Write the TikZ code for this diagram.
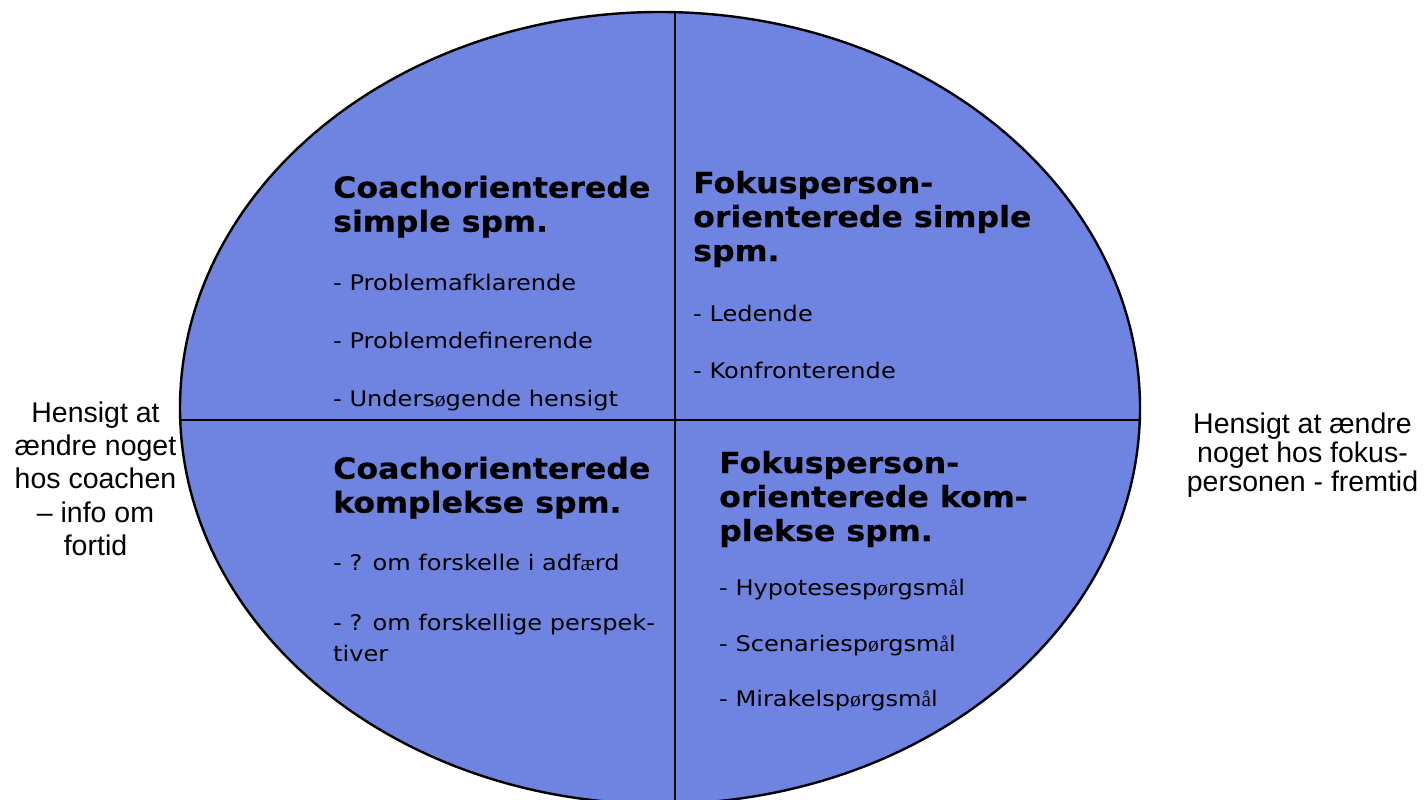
\documentclass[tikz,border=0pt]{standalone}
\usepackage{fontspec}
\setmainfont{DejaVu Sans}
\newfontfamily\headfont{DejaVu Sans}[FakeStretch=1.09, BoldFeatures={FakeBold=0.5}]
\newfontfamily\bodyfont{DejaVu Sans}[FakeStretch=1.12]
\newfontfamily\glyphfont{Liberation Serif}
\newfontfamily\sidefont{Liberation Sans}
% Danish letters set in the serif fallback face
\newcommand\fbOe{{\glyphfont ø}}
\newcommand\fbAe{{\glyphfont æ}}
\newcommand\fbAa{{\glyphfont å}}
\definecolor{quadblue}{RGB}{111,131,225}
\begin{document}
% multi-line nodes are anchored on the baseline of their last line
\begin{tikzpicture}[x=1pt,y=-1pt,
  head/.style={anchor=base west, align=left, inner sep=0pt,
    font=\headfont\bfseries\fontsize{29}{34}\selectfont},
  item/.style={anchor=base west, align=left, inner sep=0pt,
    font=\bodyfont\fontsize{21.5}{31.7}\selectfont},
  side/.style={anchor=base, align=center, inner sep=0pt,
    font=\sidefont\fontsize{28.5}{33.3}\selectfont},
  rim/.style={draw=black, line width=2.4pt},
  divider/.style={draw=black, line width=1.8pt}]
\useasboundingbox (0,0) rectangle (1424,800);
\begin{scope}
  \clip (0,0) rectangle (1424,800);
  % the oval and its four quadrants
  \fill[quadblue] (660,408) ellipse [x radius=480, y radius=396];
  \begin{scope}
    \clip (660,408) ellipse [x radius=480, y radius=396];
    \draw[divider] (675,0) -- (675,830);
    \draw[divider] (100,420) -- (1300,420);
  \end{scope}
  \draw[rim] (660,408) ellipse [x radius=480, y radius=396];
\end{scope}

% top left quadrant
\node[head] (h1) at (333,231.7) {Coachorienterede\\simple spm.};
\node[item] (i11) at (333,290.7) {- Problemafklarende};
\node[item] (i12) at (333,348.3) {- Problemdefinerende};
\node[item] (i13) at (333,406.7) {- Unders\fbOe gende hensigt};

% top right quadrant
\node[head] (h2) at (693,261) {Fokusperson-\\orienterede simple\\spm.};
\node[item] (i21) at (693,321.7) {- Ledende};
\node[item] (i22) at (693,378.3) {- Konfronterende};

% bottom left quadrant
\node[head] (h3) at (333,512.7) {Coachorienterede\\komplekse spm.};
\node[item] (i31) at (333,570.7) {- ? om forskelle i adf\fbAe rd};
\node[item] (i32) at (333,661.7) {- ? om forskellige perspek-\\tiver};

% bottom right quadrant
\node[head] (h4) at (719,541) {Fokusperson-\\orienterede kom-\\plekse spm.};
\node[item] (i41) at (719,595) {- Hypotesesp\fbOe rgsm\fbAa l};
\node[item] (i42) at (719,651.7) {- Scenariesp\fbOe rgsm\fbAa l};
\node[item] (i43) at (719,706.7) {- Mirakelsp\fbOe rgsm\fbAa l};

% captions at both sides
\node[side] (left) at (95.5,555.5) {Hensigt at\\ændre noget\\hos coachen\\– info om\\fortid};
\node[side, font=\sidefont\fontsize{28.5}{29}\selectfont] (right) at (1302.5,491.3)
  {Hensigt at ændre\\noget hos fokus-\\personen - fremtid};
\end{tikzpicture}
\end{document}
